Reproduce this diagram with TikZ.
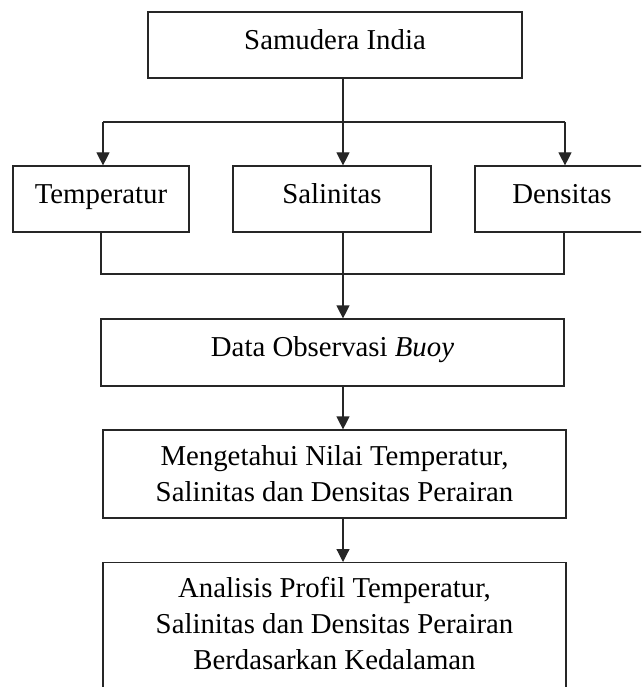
\documentclass[tikz,border=0pt]{standalone}
\usepackage{fontspec}
\setmainfont{Liberation Serif}
\usetikzlibrary{arrows.meta}
\begin{document}
\begin{tikzpicture}[x=1pt,y=-1pt,
  every node/.style={font=\fontsize{28.8}{36}\selectfont},
  box/.style={draw=black!85, line width=1.2pt, inner sep=0pt, align=center},
  onebox/.style={box, text height=0.86em, text depth=0.02em},
  conn/.style={draw=black!85, line width=1.2pt},
  arr/.style={conn, -{Triangle[width=13pt,length=13pt]}}]
\useasboundingbox (0,0) rectangle (641,687);
\clip (0,0) rectangle (641,687);
\node[onebox, minimum width=374pt, minimum height=66pt] (top) at (335,45) {Samudera India};
\node[onebox, minimum width=176pt, minimum height=66pt] (temp) at (101,199) {Temperatur};
\node[onebox, minimum width=198pt, minimum height=66pt] (sal) at (332,199) {Salinitas};
\node[onebox, minimum width=174pt, minimum height=66pt] (den) at (562,199) {Densitas};
\node[onebox, minimum width=463pt, minimum height=67pt] (data) at (332.5,352.5) {Data Observasi \textit{Buoy}};
\node[box, minimum width=463pt, minimum height=88pt] (nilai) at (334.5,474) {Mengetahui Nilai Temperatur,\\Salinitas dan Densitas Perairan};
\node[box, minimum width=463pt, minimum height=160pt, anchor=north] (anal) at (334.5,562) {};
\node[align=center, anchor=north, inner sep=0pt] (analtxt) at (334.5,577) {Analisis Profil Temperatur,\\Salinitas dan Densitas Perairan\\Berdasarkan Kedalaman};
% split coordinates
\coordinate (cx) at (343,0);
\coordinate (lx) at (103,0);
\coordinate (rx) at (565,0);
\coordinate (split) at (343,122);
\coordinate (join) at (343,274);
% top to three
\draw[conn] (top.south -| cx) -- (split);
\draw[conn] (lx |- split) -- (rx |- split);
\draw[arr] (split) -- (sal.north -| cx);
\draw[arr] (lx |- split) -- (temp.north -| lx);
\draw[arr] (rx |- split) -- (den.north -| rx);
% three to data
\coordinate (lx2) at (101,0);
\coordinate (rx2) at (564,0);
\draw[conn] (temp.south -| lx2) -- (lx2 |- join) -- (rx2 |- join) -- (den.south -| rx2);
\draw[arr] (sal.south -| cx) -- (data.north -| cx);
\draw[arr] (data.south -| cx) -- (nilai.north -| cx);
\draw[arr] (nilai.south -| cx) -- (anal.north -| cx);
\end{tikzpicture}
\end{document}
